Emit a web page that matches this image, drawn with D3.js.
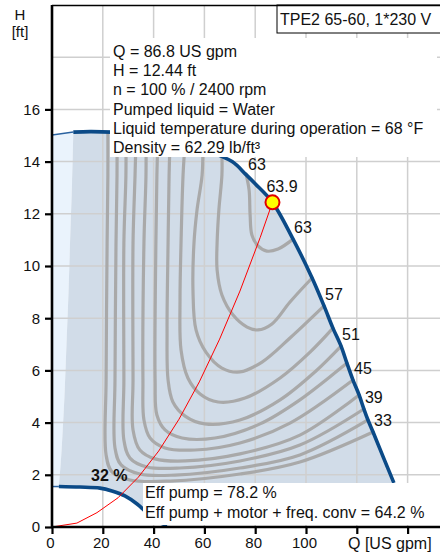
<!DOCTYPE html>
<html><head><meta charset="utf-8">
<script src="https://cdn.jsdelivr.net/npm/d3@7"></script>
<style>body{margin:0;background:#fff}svg{display:block;font-family:"Liberation Sans",Arial,sans-serif}</style>
</head><body><svg id="c" width="440" height="554"></svg>
<script>
// ---------- data ----------
const xTickValues=[0,20,40,60,80,100,120,140];
const xTickLabels=["0","20","40","60","80","100","",""];
const yTickValues=[0,2,4,6,8,10,12,14,16];
const yGridValues=[2,4,6,8,10,12,14,16,18];
const maxCurveExt=[[0,15.02],[8.4,15.13]];
const maxCurve=[[8.4,15.13],[15,15.15],[23.5,15.13],[32,15.06],[40,14.93],[50,14.72],[60,14.45],[70.9,14.0],[76.4,13.5],[80,13.15],[86.8,12.44],[94.9,11.03],[102.4,9.54],[107.1,8.47],[110.6,7.62],[113.8,6.93],[116.1,6.28],[118.5,5.63],[120.9,5.06],[122.8,4.52],[124.4,4.10],[126.4,3.64],[130.5,2.66],[134.6,1.69]];
const minCurveExt=[[0,1.55],[2.7,1.55]];
const minCurve=[[2.7,1.55],[11,1.53],[18.9,1.49],[23.6,1.38],[28.7,1.19],[33.5,0.88],[37.4,0.54],[41.3,0.23],[45.3,0.05]];
const minFlowLine=[[8.4,15.13],[7.9,13.2],[7.2,11.2],[6.5,9.0],[5.7,7.0],[4.9,5.0],[4.1,3.5],[3.4,2.4],[2.7,1.55]];
const systemQ=[0,9.8,17.7,26,34,42,50,58,66,74,82,86.8];
const systemH=[0,0.15,0.55,1.12,1.91,2.91,4.13,5.56,7.2,9.04,11.1,12.44];
const dutyPoint={q:86.8,h:12.44,eff:"63.9"};
const effLevels=[63,60,57,54,51,48,45,42,39,36,33];
const effLabelled=[63,57,51,45,39,33];
const contour63=[[76.4,13.52],[77.6,12.91],[78.0,11.95],[78.7,11.19],[81.1,10.77],[84.6,10.57],[89.0,10.65],[94.9,11.03]];
const contour60=[[66.9,14.25],[66.9,13.49],[65.7,12.15],[65.0,10.88],[65.0,9.85],[66.9,8.89],[71.3,8.12],[76.8,7.66],[81.1,7.55],[86.6,7.78],[93.7,8.62],[102.4,9.54]];
const contour57=[[59.4,14.56],[59.1,13.49],[57.1,12.15],[55.9,10.88],[55.5,9.08],[56.7,7.55],[60.6,6.70],[66.9,6.09],[74.0,5.94],[82.7,6.32],[93.7,7.24],[107.1,8.47]];
const contour54=[[52.4,14.75],[51.6,13.49],[50.8,10.88],[50.4,8.70],[50.8,6.78],[53.5,5.71],[58.3,5.10],[65.4,4.79],[76.0,4.94],[89.8,5.71],[101.6,6.70],[110.6,7.62]];
const contour51=[[46.5,14.87],[46.1,13.49],[45.7,10.88],[45.3,7.55],[45.7,5.63],[47.6,4.79],[52.4,4.25],[60.2,3.95],[74.0,4.10],[89.8,4.87],[103.5,5.94],[113.8,6.93]];
const contour48=[[41.7,14.94],[41.3,13.49],[40.9,10.88],[40.6,5.63],[41.3,4.29],[44.5,3.72],[51.2,3.41],[64.2,3.41],[81.9,3.95],[97.6,4.87],[116.1,6.28]];
const contour45=[[37.0,14.98],[37.0,13.49],[36.2,10.88],[35.8,5.63],[36.2,4.10],[38.6,3.41],[44.5,3.03],[56.3,2.95],[74.0,3.22],[93.7,3.98],[118.5,5.63]];
const contour42=[[33.1,15.02],[32.7,13.49],[31.9,10.88],[31.9,5.63],[31.9,3.72],[34.6,2.95],[40.6,2.61],[52.4,2.53],[74.0,2.80],[97.6,3.52],[120.9,5.06]];
const contour39=[[29.1,15.06],[29.1,13.49],[28.3,10.88],[28.3,5.63],[28.3,3.33],[30.7,2.64],[37.4,2.30],[50.4,2.26],[74.0,2.53],[97.6,3.14],[122.8,4.52]];
const contour36=[[25.6,15.10],[25.6,13.49],[25.2,10.88],[24.8,5.63],[24.8,3.03],[27.2,2.38],[34.6,2.03],[48.4,1.99],[74.0,2.26],[97.6,2.76],[124.4,4.10]];
const contour33=[[22.0,15.10],[22.0,13.49],[21.7,10.88],[21.3,5.63],[21.3,2.76],[23.6,2.11],[30.7,1.80],[46.5,1.76],[74.0,2.03],[97.6,2.49],[126.4,3.64]];
const contours=[contour63,contour60,contour57,contour54,contour51,contour48,contour45,contour42,contour39,contour36,contour33];
const infoLines=["Q = 86.8 US gpm","H = 12.44 ft","n = 100 % / 2400 rpm","Pumped liquid = Water","Liquid temperature during operation = 68 °F","Density = 62.29 lb/ft³"];
const effLines=["Eff pump = 78.2 %","Eff pump + motor + freq. conv = 64.2 %"];
const titleText="TPE2 65-60, 1*230 V";
const minSpeedLabel="32 %";
const xAxisTitle="Q [US gpm]";
const yAxisTitle=["H","[ft]"];

// ---------- drawing ----------
const svg=d3.select('#c');
const x=d3.scaleLinear().domain([0,140]).range([52,407.6]);
const y=d3.scaleLinear().domain([0,20]).range([527,5]);
const FS=16, TS=15;
svg.append('defs').append('clipPath').attr('id','clip').append('rect').attr('x',52).attr('y',5).attr('width',388).attr('height',522);
const g=svg.append('g').attr('clip-path','url(#clip)');
const smooth=d3.line().x(d=>x(d[0])).y(d=>y(d[1])).curve(d3.curveCatmullRom.alpha(0.5));
const straight=d3.line().x(d=>x(d[0])).y(d=>y(d[1]));
const join=(...segs)=>segs.map((s,i)=>{const p=smooth(s);return i?'L'+p.slice(1):p;}).join('')+'Z';

// light area
g.append('path').attr('d',join(maxCurveExt,minFlowLine,minCurveExt.slice().reverse())).attr('fill','#eaf3fc');
// operating area
g.append('path').attr('d',join(maxCurve,minCurve.slice().reverse(),minFlowLine.slice().reverse())).attr('fill','#d1dce8');

// grid
g.selectAll('.gx').data(xTickValues.slice(1)).join('line').attr('x1',d=>x(d)).attr('x2',d=>x(d)).attr('y1',5).attr('y2',527).attr('stroke','#cfcfcf').attr('stroke-width',1.5);
g.selectAll('.gy').data(yGridValues).join('line').attr('x1',52).attr('x2',440).attr('y1',d=>y(d)).attr('y2',d=>y(d)).attr('stroke','#cfcfcf').attr('stroke-width',1.5);

// efficiency contours
g.selectAll('.ct').data(contours).join('path').attr('d',smooth).attr('fill','none').attr('stroke','#a9a9a9').attr('stroke-width',3.2).attr('stroke-linecap','round');

// pump curves
g.append('path').attr('d',straight(maxCurveExt)).attr('fill','none').attr('stroke','#2a62a0').attr('stroke-width',1.5);
g.append('path').attr('d',smooth(maxCurve)).attr('fill','none').attr('stroke','#0b4a87').attr('stroke-width',3.6);
g.append('path').attr('d',straight(minCurveExt)).attr('fill','none').attr('stroke','#2a62a0').attr('stroke-width',1.5);
g.append('path').attr('d',smooth(minCurve)).attr('fill','none').attr('stroke','#0b4a87').attr('stroke-width',3.6);

// system curve
g.append('path').attr('d',straight(systemQ.map((q,i)=>[q,systemH[i]]))).attr('fill','none').attr('stroke','#ff0000').attr('stroke-width',1);

// contour labels
effLabelled.forEach(lv=>{
  const c=contours[effLevels.indexOf(lv)];
  const e=c[c.length-1];
  svg.append('text').attr('x',x(e[0])+1).attr('y',y(e[1])-6).attr('font-size',FS).attr('fill','#111').text(lv);
});
{const s=contour63[0];svg.append('text').attr('x',x(s[0])+2).attr('y',y(s[1])-4).attr('font-size',FS).attr('fill','#111').text(effLevels[0]);}

// duty point
svg.append('circle').attr('cx',x(dutyPoint.q)).attr('cy',y(dutyPoint.h)).attr('r',7).attr('fill','#ffff00').attr('stroke','#e00000').attr('stroke-width',2);
svg.append('text').attr('x',x(dutyPoint.q)-6).attr('y',y(dutyPoint.h)-10.5).attr('font-size',FS).attr('fill','#111').text(dutyPoint.eff);

// min speed label
svg.append('text').attr('x',91).attr('y',481).attr('font-size',FS).attr('font-weight','bold').attr('fill','#111').text(minSpeedLabel);

// info box
svg.append('rect').attr('x',110).attr('y',38).attr('width',327).attr('height',119).attr('fill','#fff');
svg.selectAll('.info').data(infoLines).join('text').attr('x',113).attr('y',(d,i)=>56.7+i*19.35).attr('font-size',FS).attr('fill','#111').text(d=>d);

// eff box
svg.append('rect').attr('x',143).attr('y',483).attr('width',292).attr('height',42).attr('fill','#fff');
svg.selectAll('.eff').data(effLines).join('text').attr('x',145).attr('y',(d,i)=>498+i*20).attr('font-size',FS).attr('fill','#111').text(d=>d);

// title box
svg.append('rect').attr('x',277).attr('y',5).attr('width',170).attr('height',28).attr('fill','#fff').attr('stroke','#000').attr('stroke-width',1);
svg.append('text').attr('x',280).attr('y',25).attr('font-size',FS).attr('fill','#111').text(titleText);

// axes
svg.append('line').attr('x1',52).attr('x2',440).attr('y1',5.5).attr('y2',5.5).attr('stroke','#000').attr('stroke-width',1.6);
const ya=svg.append('g').attr('transform','translate(52,0)').call(d3.axisLeft(y).tickValues(yTickValues).tickSize(7).tickPadding(5));
ya.select('.domain').remove();
ya.selectAll('line').attr('stroke','#000').attr('stroke-width',2.2);
ya.selectAll('text').attr('font-size',TS).attr('font-family','"Liberation Sans",Arial,sans-serif').attr('fill','#111');
const xa=svg.append('g').attr('transform','translate(0,527)').call(d3.axisBottom(x).tickValues(xTickValues).tickSize(7).tickPadding(3).tickFormat((d,i)=>xTickLabels[i]));
xa.select('.domain').remove();
xa.selectAll('line').attr('stroke','#000').attr('stroke-width',2.2);
xa.selectAll('text').attr('font-size',TS).attr('font-family','"Liberation Sans",Arial,sans-serif').attr('fill','#111').attr('dx',-2);
svg.append('line').attr('x1',52).attr('x2',52).attr('y1',5).attr('y2',528).attr('stroke','#000').attr('stroke-width',2.6);
svg.append('line').attr('x1',51).attr('x2',440).attr('y1',527).attr('y2',527).attr('stroke','#000').attr('stroke-width',2.6);
svg.append('text').attr('x',348).attr('y',548.5).attr('font-size',FS).attr('fill','#111').text(xAxisTitle);
svg.append('text').attr('x',20).attr('y',20).attr('text-anchor','middle').attr('font-size',TS).attr('fill','#111').text(yAxisTitle[0]);
svg.append('text').attr('x',20).attr('y',37).attr('text-anchor','middle').attr('font-size',TS).attr('fill','#111').text(yAxisTitle[1]);
</script></body></html>
